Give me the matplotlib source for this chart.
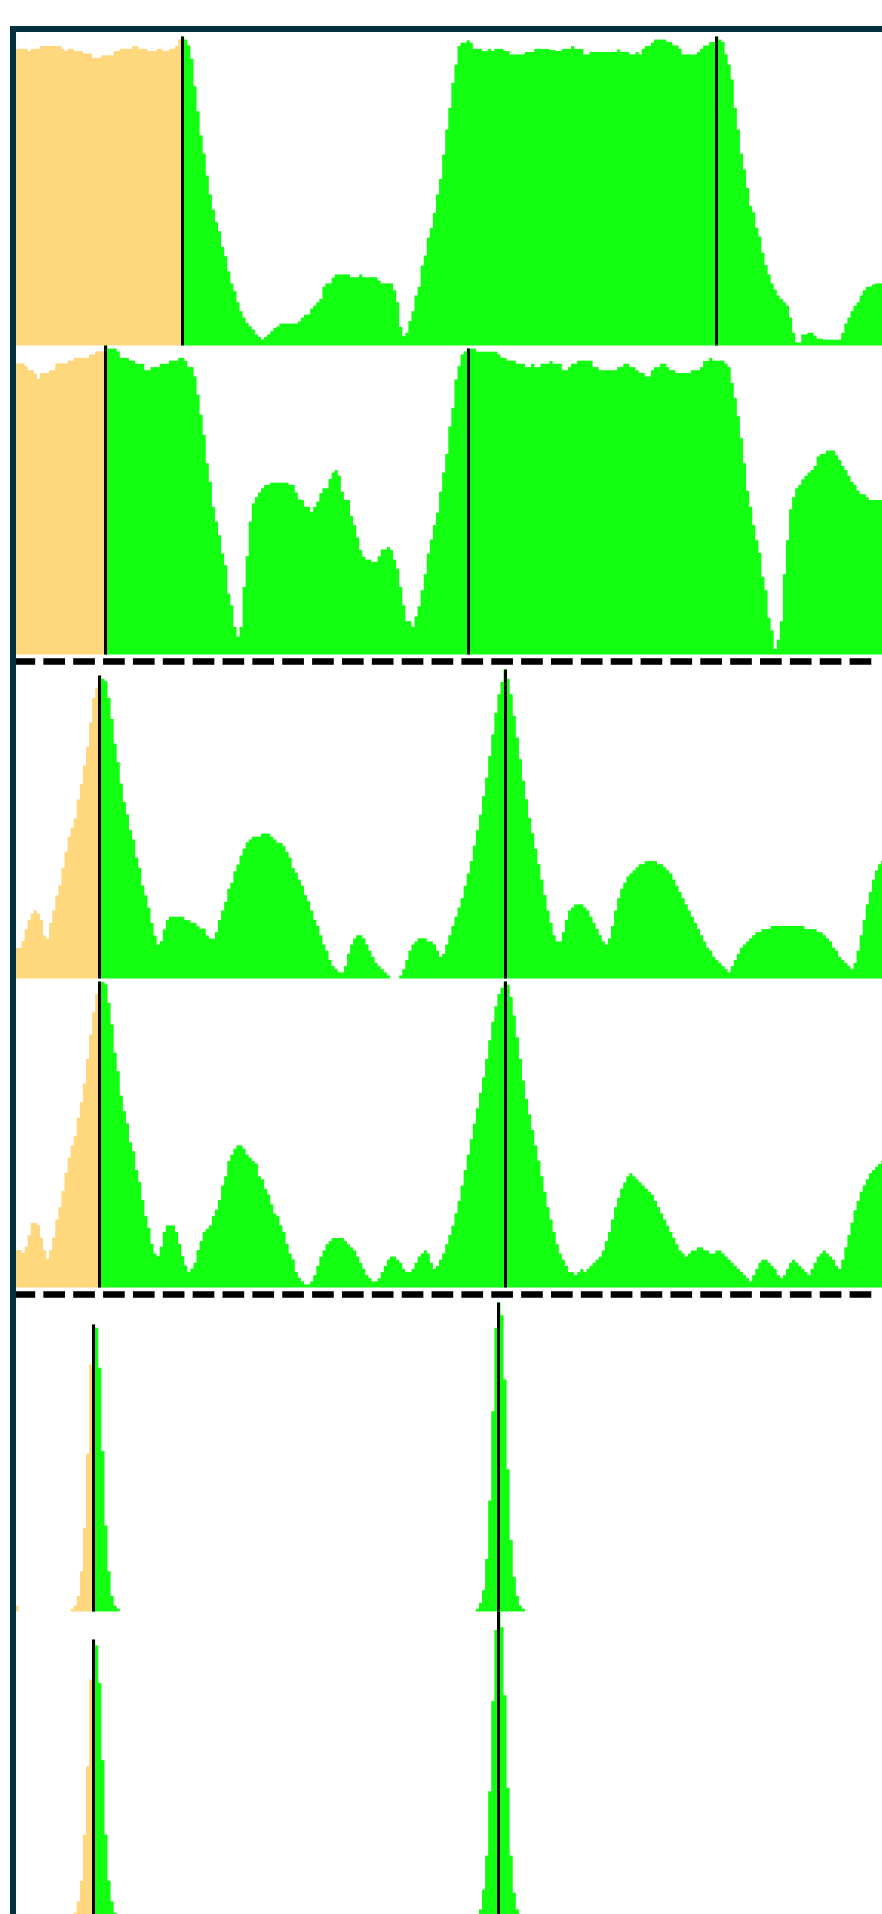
import numpy as np
import matplotlib
matplotlib.use("Agg")
import matplotlib.pyplot as plt
from matplotlib.patches import Rectangle
from matplotlib.lines import Line2D

plt.rcParams['lines.scale_dashes'] = False

# ---------------- data (percent of panel height, one value per bin) ----------------
p1_values = [
    96, 96, 96, 96, 95.3, 96, 96, 96, 96.9, 96.9,
    96.9, 96.9, 96.9, 96.9, 96.9, 96, 95.3, 96, 96, 95.3,
    95.3, 95.3, 94.5, 94.5, 94.5, 93.1, 93.1, 93.1, 93.9, 93.9,
    93.9, 93.9, 95.3, 95.3, 96, 96, 96, 96, 96.9, 96.9,
    96, 96, 96, 95.3, 95.3, 95.3, 96, 96, 95.3, 95.3,
    96, 96, 96.9, 99, 100, 99, 97.1, 92.8, 83.9, 75.8,
    68.0, 62.1, 55.0, 48.9, 44.0, 39.9, 37.0, 31.9, 28.9, 24.0,
    20.1, 17.6, 14.0, 11.1, 9.0, 7.3, 6.2, 5.2, 3.6, 2.8,
    1.9, 2.8, 3.6, 4.6, 5.7, 6.2, 7.1, 7.1, 7.1, 7.1,
    7.1, 7.1, 7.8, 9.0, 10.0, 10.0, 11.9, 12.9, 14.0, 15.1,
    19.0, 20.1, 20.1, 21.9, 23, 23, 23, 23, 23, 22.1,
    22.1, 22.1, 23, 22.1, 22.1, 22.1, 22.1, 22.1, 21.0, 20.1,
    20.1, 20.1, 20.1, 17.9, 14.0, 6.0, 3.0, 4.1, 7.9, 11.1,
    16.2, 19.0, 25.9, 29.1, 34.9, 38.0, 42.9, 48.9, 53.9, 61.8,
    69.9, 76.9, 85.0, 90.9, 96.9, 98.0, 98.0, 98.8, 98.0, 96,
    96, 96, 95.3, 95.3, 96, 95.3, 96, 96, 96, 95.3,
    95.3, 94.2, 94.2, 94.2, 94.2, 94.2, 95, 95, 95, 96,
    96, 96, 96, 96, 95.6, 95.6, 95.3, 95.3, 96, 96,
    96, 96.9, 96, 96, 96, 94.2, 94.2, 95, 95, 95,
    95, 95, 95, 95, 95, 95, 95.8, 95, 95, 95,
    94.2, 94.2, 95, 94.2, 96, 96.9, 96.9, 98, 99, 99,
    99, 99, 98.2, 98.2, 97.1, 97.1, 96, 94.2, 94.2, 94.2,
    94.2, 94.2, 95, 96, 97.1, 97.1, 98.2, 98.2, 100, 99,
    98.2, 94.2, 90.9, 86.1, 76.9, 69.9, 62.1, 57.0, 51.0, 45.1,
    43.1, 38.1, 35.2, 30.0, 26.0, 23.0, 20.1, 18.1, 16.2, 15.1,
    14.0, 12.9, 9.0, 4.1, 1.0, 1.0, 3.6, 3.6, 4.1, 4.1,
    3.2, 2.2, 2.2, 1.9, 1.9, 1.9, 1.9, 1.9, 1.9, 4.1,
    7.1, 9.0, 11.1, 12.9, 14.0, 16.2, 17.9, 19.0, 19.0, 19.8,
    20.1, 20.1, 20.1,
]

p2_values = [
    94.2, 94.2, 94.2, 93.3, 92.0, 92.0, 90.9, 89.2, 91.1, 91.1,
    91.1, 92.0, 92.0, 94.2, 94.2, 94.2, 94.2, 95.1, 95.1, 96,
    96, 96, 96, 96, 97.1, 97.1, 98.1, 98.1, 98.1, 100,
    99, 99, 99, 98.1, 96, 96, 96, 95.1, 95.1, 94.1,
    94.1, 94.1, 92.0, 92.0, 93, 93, 93, 94.1, 94.1, 94.1,
    95.1, 95.1, 95.1, 96, 96, 95, 93, 93, 90.0, 84.1,
    77.6, 71.1, 61.9, 55.9, 47.8, 43.0, 38.6, 32.7, 28.9, 19.7,
    15.9, 8.9, 5.8, 8.9, 21.9, 31.8, 43.0, 48.9, 50.9, 52.4,
    53.8, 54.9, 54.9, 55.6, 55.6, 55.6, 55.6, 55.6, 55.6, 54.9,
    54.9, 52.4, 50.2, 50.0, 47.8, 47.8, 46.2, 47.8, 49.5, 52.2,
    53.8, 53.8, 56.8, 58.9, 59.7, 57.9, 52.7, 50.0, 50.0, 44.8,
    41.9, 37.9, 33.8, 31.6, 30.7, 30.7, 30.0, 30.0, 31.8, 34.0,
    34.0, 34.8, 33.8, 30.7, 27.8, 21.9, 15.9, 10.8, 10.8, 8.9,
    12.3, 15.6, 20.8, 26.0, 32.7, 37.2, 41.9, 45.9, 52.7, 58.9,
    64.9, 73.8, 79.8, 89.0, 93.3, 97.1, 98.1, 99, 99, 99,
    98, 98, 98, 98, 98, 98, 98, 97.1, 96, 96,
    95.1, 95.1, 95.1, 94.1, 94.1, 94.1, 93, 93, 94.1, 93,
    93, 94.1, 94.1, 94.1, 95, 94.1, 94.1, 94.1, 92, 92,
    93, 94.1, 94.1, 95.1, 95.1, 95.1, 95.1, 95.1, 93, 93,
    92, 92, 92, 92, 92, 92, 93, 93, 94.1, 94.1,
    93, 93, 92, 91.1, 91.1, 90.0, 90.0, 92, 93, 93,
    94.1, 94.1, 93, 92, 92, 91.1, 91.1, 91.1, 91.1, 91.1,
    92, 92, 92, 93, 95, 95, 96, 95.1, 95.1, 95.1,
    95.1, 94.1, 93, 87.9, 83.0, 77.1, 70.0, 61.9, 53.0, 47.8,
    41.9, 37.0, 32.9, 25.1, 20.8, 11.9, 7.8, 1.8, 4.8, 10.8,
    26.0, 37.0, 47.0, 50.9, 53.8, 54.9, 56.7, 57.8, 58.9, 59.7,
    61.0, 64.1, 64.9, 64.9, 66.0, 66.0, 66.0, 64.5, 63.0, 61.0,
    59.7, 57.8, 55.9, 54.9, 53.0, 51.9, 51.9, 50.9, 50.0, 50.0,
    50.0, 50.0, 50.0,
]

p3_values = [
    9.9, 9.9, 12.1, 15.9, 18.9, 21.0, 22.0, 21.0, 18.9, 13.9,
    12.9, 18.0, 22.0, 26.9, 30.1, 35.8, 41.0, 45.9, 48.8, 51.8,
    57.9, 63.0, 68.9, 75.0, 82.9, 90.8, 94.1, 98, 97.0, 96.2,
    90.8, 84.0, 76.0, 70.0, 63.1, 57.1, 53.1, 48.0, 45.0, 39.1,
    35.8, 30.1, 26.9, 22.9, 18.0, 13.9, 11.0, 12.1, 15.9, 18.9,
    20, 20, 20, 20, 20, 18.9, 18.9, 18.0, 18.0, 16.9,
    16.1, 16.1, 13.9, 12.9, 12.9, 15.0, 18.9, 22.0, 24.8, 29.0,
    31.0, 34.7, 36.9, 39.8, 42.0, 44.1, 45.0, 45.9, 45.9, 45.9,
    46.9, 46.9, 46.9, 45.9, 45.0, 43.9, 43.9, 42.8, 40.9, 39.1,
    35.8, 34.2, 32.0, 30, 27, 25, 22, 19, 17, 14,
    11, 9, 6, 4, 3, 2, 2, 4, 8, 11,
    13, 14, 14, 13, 11, 9, 7, 5, 4, 3,
    2, 1, 0, 0, 0, 1, 3, 6, 9, 11,
    12, 13, 13, 13, 12, 12, 11, 9, 7, 8,
    11, 14, 17, 20, 23, 26, 30, 34, 38, 43,
    48, 53, 59, 65, 72, 79, 86, 92, 96, 100,
    97, 92, 85, 78, 71, 64, 58, 52, 47, 42,
    37, 32, 27, 22, 18, 14, 12, 12, 15, 19,
    22, 23, 24, 24, 24, 23, 22, 20, 18, 16,
    14, 12, 11, 13, 17, 22, 26, 29, 31, 33,
    34, 35, 36, 37, 37, 38, 38, 38, 38, 37,
    37, 36, 35, 34, 32, 30, 28, 26, 24, 22,
    20, 18, 16, 14, 12, 10, 9, 7, 6, 5,
    4, 3, 2, 4, 6, 8, 10, 11, 12, 13,
    14, 15, 15, 16, 16, 16, 17, 17, 17, 17,
    17, 17, 17, 17, 17, 17, 17, 16, 16, 16,
    16, 15, 15, 14, 13, 12, 10, 9, 7, 6,
    5, 4, 3, 5, 9, 14, 19, 24, 28, 32,
    35, 37, 38,
]

p4_values = [
    12.1, 12.1, 11.2, 13.2, 16.9, 20.9, 20.9, 20.1, 16.1, 12.1,
    9.3, 12.1, 16.1, 22.0, 26.0, 31.2, 37.1, 42.0, 46.0, 49.0,
    54.9, 60.0, 66.0, 74.0, 81.9, 89.1, 95.0, 99, 98.9, 98.1,
    92.1, 85.1, 76.0, 70.0, 62.1, 57.1, 53.1, 47.0, 44.1, 38.0,
    34.1, 28.3, 23.1, 19.3, 14.1, 11.0, 10.1, 13.2, 18.0, 20.1,
    20.1, 20.1, 18.0, 14.1, 10.1, 7.1, 5.1, 6.1, 8.0, 12.1,
    15.0, 18.0, 19.0, 20.1, 23.1, 25.2, 28.3, 33.0, 36.0, 40.9,
    43.0, 44.9, 46.0, 46.0, 44.9, 43.0, 42.0, 40.9, 40.1, 36.0,
    35.0, 31.9, 30.1, 26.9, 23.9, 23.1, 20.1, 18.0, 14.1, 11.0,
    9.1, 5.0, 3.1, 2, 1, 1, 2, 4, 7, 10,
    12, 14, 15, 16, 16, 16, 16, 15, 14, 13,
    12, 10, 8, 6, 4, 3, 2, 2, 3, 5,
    7, 9, 10, 10, 9, 8, 6, 5, 5, 6,
    8, 10, 11, 12, 11, 8, 6, 7, 9, 11,
    14, 17, 20, 24, 28, 33, 38, 43, 48, 53,
    58, 63, 68, 74, 80, 86, 91, 95, 97, 99,
    98, 94, 88, 81, 74, 67, 61, 56, 51, 46,
    41, 36, 31, 26, 22, 18, 14, 11, 9, 7,
    5, 5, 4, 5, 6, 5, 6, 7, 8, 9,
    10, 12, 15, 18, 22, 26, 29, 32, 34, 36,
    37, 36, 35, 34, 33, 32, 31, 30, 28, 26,
    24, 22, 20, 18, 16, 14, 12, 11, 10, 11,
    12, 12, 13, 13, 12, 12, 11, 11, 12, 12,
    11, 10, 9, 8, 7, 6, 5, 4, 3, 2,
    4, 6, 8, 9, 9, 8, 7, 6, 4, 3,
    4, 6, 8, 9, 8, 7, 6, 5, 4, 6,
    8, 10, 11, 12, 11, 10, 9, 7, 6, 9,
    13, 17, 21, 25, 28, 31, 33, 35, 37, 38,
    39, 40, 41,
]

N_BINS = 283
# sparse panels: bin index -> value
p5_bins = [0, 18, 19, 20, 21, 22, 23, 24, 25, 26, 27, 28, 29, 30, 31, 32, 33,
           150, 151, 152, 153, 154, 155, 156, 157, 158, 159, 160, 161, 162, 163, 164, 165]
p5_heights = [1.9, 0.9, 1.9, 5.0, 13.0, 27.1, 51.1, 79.9, 92.9, 91.8, 78.9, 51.9, 27.8, 13.0, 5.0, 1.9, 0.9,
              0.9, 2.8, 6.9, 17.0, 35.9, 64.8, 91.8, 100, 95.9, 75.1, 46.0, 23.1, 11.2, 5.0, 1.9, 0.9]
p6_bins = [18, 19, 20, 21, 22, 23, 24, 25, 26, 27, 28, 29, 30, 31, 32, 33,
           150, 151, 152, 153, 154, 155, 156, 157, 158, 159, 160, 161, 162, 163, 164]
p6_heights = [1.0, 2.5, 6.2, 12.9, 27.8, 49.9, 78.0, 90.9, 89.0, 76.9, 51.9, 27.8, 12.9, 6.2, 2.5, 1.0,
              1.0, 3.6, 10.0, 21.0, 41.8, 71.0, 94.0, 100, 94.9, 72.9, 42.9, 21.0, 9.0, 3.6, 1.0]

# marked peak bins in each panel (first one splits orange / green)
peak_bins = [[54, 228], [29, 147], [27, 159], [27, 159], [25, 157], [25, 157]]

ORANGE = "#FFD77D"
GREEN = "#12FF12"
FRAME = "#05303F"

# ---------------- layout ----------------
W, H = 882, 1915
fig = plt.figure(figsize=(W / 100, H / 100), dpi=100)
BIN_PX = 3.07
X0 = 14.9
NB = 290
PANEL_H = 309
panel_tops = [37, 346, 670, 979, 1303, 1612]


def sparse(bins, heights):
    v = np.zeros(N_BINS)
    v[np.array(bins)] = heights
    return v


panels = [np.array(p1_values, float), np.array(p2_values, float),
          np.array(p3_values, float), np.array(p4_values, float),
          sparse(p5_bins, p5_heights), sparse(p6_bins, p6_heights)]

for vals, top, peaks in zip(panels, panel_tops, peak_bins):
    ax = fig.add_axes([X0 / W, 1 - (top + PANEL_H) / H, NB * BIN_PX / W, PANEL_H / H])
    ax.set_xlim(0, NB)
    ax.set_ylim(0, 100)
    ax.axis("off")
    ax.patch.set_alpha(0)
    edges = np.arange(len(vals) + 1)
    yy = np.append(vals, vals[-1])
    split = peaks[0] + 0.5
    g = ax.fill_between(edges, 0, yy, step="post", color=GREEN, lw=0)
    o = ax.fill_between(edges, 0, yy, step="post", color=ORANGE, lw=0)
    o.set_clip_path(Rectangle((-1, -5), split + 1, 120, transform=ax.transData))
    g.set_clip_path(Rectangle((split, -5), NB + 10, 120, transform=ax.transData))
    for pk in peaks:
        ax.plot([pk + 0.5, pk + 0.5], [0, vals[pk]], color="black", lw=2.16,
                solid_capstyle="butt", clip_on=False, zorder=5)

# dashed separators
for yline in [662, 1295]:
    ln = Line2D([12.8 / W, 875 / W], [1 - yline / H] * 2, transform=fig.transFigure,
                color="black", lw=4.7, dashes=(15.6, 5.9), dash_capstyle="butt", zorder=10)
    fig.add_artist(ln)

# frame (left and top)
fig.add_artist(Rectangle((10 / W, 0), 6 / W, 1 - 27 / H, transform=fig.transFigure,
                         facecolor=FRAME, edgecolor="none", zorder=20))
fig.add_artist(Rectangle((10 / W, 1 - 33 / H), 1.0, 6 / H, transform=fig.transFigure,
                         facecolor=FRAME, edgecolor="none", zorder=20))

fig.savefig("out.png", dpi=100)
